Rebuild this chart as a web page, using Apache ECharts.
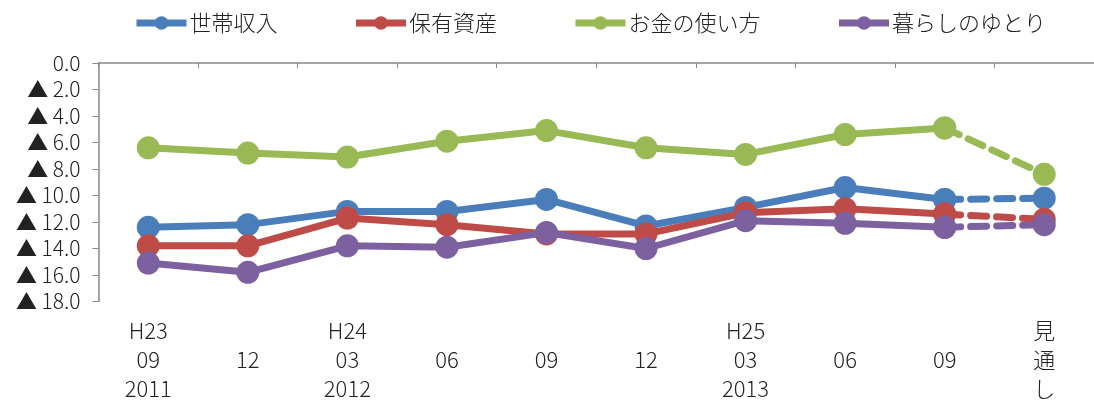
<!DOCTYPE html>
<html>
<head>
<meta charset="utf-8">
<script src="https://cdn.jsdelivr.net/npm/echarts@6/dist/echarts.min.js"></script>
<style>
  html, body { margin: 0; padding: 0; background: #fff; }
  #chart { width: 1094px; height: 403px; }
</style>
</head>
<body>
<div id="chart"></div>
<script>
// categories (survey month) and the four diffusion indices (negative = ▲)
const categories = ["H23\n09\n2011", "12", "H24\n03\n2012", "06", "09", "12", "H25\n03\n2013", "06", "09", "見\n通\nし"];
const names = ["世帯収入", "保有資産", "お金の使い方", "暮らしのゆとり"];
const colors = ["#4A7EBB", "#BE4B48", "#98B954", "#7D60A0"];

const household = [-12.4, -12.2, -11.2, -11.2, -10.3, -12.3, -10.9, -9.4, -10.3];
const assets = [-13.8, -13.8, -11.7, -12.2, -12.9, -12.9, -11.3, -11.0, -11.4];
const spending = [-6.4, -6.8, -7.1, -5.9, -5.1, -6.4, -6.9, -5.4, -4.9];
const comfort = [-15.1, -15.8, -13.8, -13.9, -12.8, -14.0, -11.9, -12.1, -12.4];
// 見通し (outlook) values
const outlook = [-10.2, -11.8, -8.4, -12.2];

const actual = [household, assets, spending, comfort];
const font = "'Noto Sans CJK JP', sans-serif";

let series = [];
actual.forEach((vals, i) => {
  series.push({
    name: names[i],
    type: "line",
    data: vals.concat([null]),
    symbol: "circle",
    symbolSize: 23,
    lineStyle: { width: 7, color: colors[i] },
    itemStyle: { color: colors[i] },
    z: 2 + i
  });
});
actual.forEach((vals, i) => {
  let d = vals.map(() => null);
  d[d.length - 1] = vals[vals.length - 1];
  d.push(outlook[i]);
  series.push({
    name: names[i],
    type: "line",
    data: d,
    symbol: "circle",
    symbolSize: 23,
    lineStyle: { width: 7, color: colors[i], type: [16, 10], cap: "round" },
    itemStyle: { color: colors[i] },
    z: 2 + i
  });
});

let option = {
  animation: false,
  backgroundColor: "#fff",
  legend: {
    left: 133,
    top: 12,
    padding: 0,
    itemWidth: 50,
    itemHeight: 17,
    itemGap: 75,
    data: names,
    lineStyle: { width: 7 },
    textStyle: { fontFamily: font, fontWeight: 300, fontSize: 22, color: "#222", padding: [0, 0, 0, -2] }
  },
  grid: { left: 98.5, right: -2, top: 63, bottom: 101 },
  xAxis: [
    {
      type: "category",
      position: "bottom",
      data: categories,
      axisLine: { show: false },
      axisTick: { show: false },
      axisLabel: {
        interval: 0,
        margin: 58,
        verticalAlign: "middle",
        lineHeight: 29,
        fontSize: 22,
        fontWeight: 300,
        fontFamily: font,
        color: "#222"
      }
    },
    {
      type: "category",
      position: "top",
      data: categories,
      axisLine: { show: true, onZero: false, lineStyle: { color: "#888", width: 1.5 } },
      axisTick: { show: true, inside: true, length: 5, lineStyle: { color: "#888" } },
      axisLabel: { show: false }
    }
  ],
  yAxis: {
    type: "value",
    min: -18,
    max: 0,
    interval: 2,
    splitLine: { show: false },
    axisLine: { show: true, lineStyle: { color: "#888", width: 1.5 } },
    axisTick: { show: true, length: 6, lineStyle: { color: "#888" } },
    axisLabel: {
      margin: 18,
      fontSize: 21,
      fontWeight: 300,
      fontFamily: font,
      color: "#222",
      formatter: v => (v === 0 ? "0.0" : "▲ " + Math.abs(v).toFixed(1))
    }
  },
  series: series
};

let myChart = echarts.init(document.getElementById("chart"));
myChart.setOption(option);
</script>
</body>
</html>
